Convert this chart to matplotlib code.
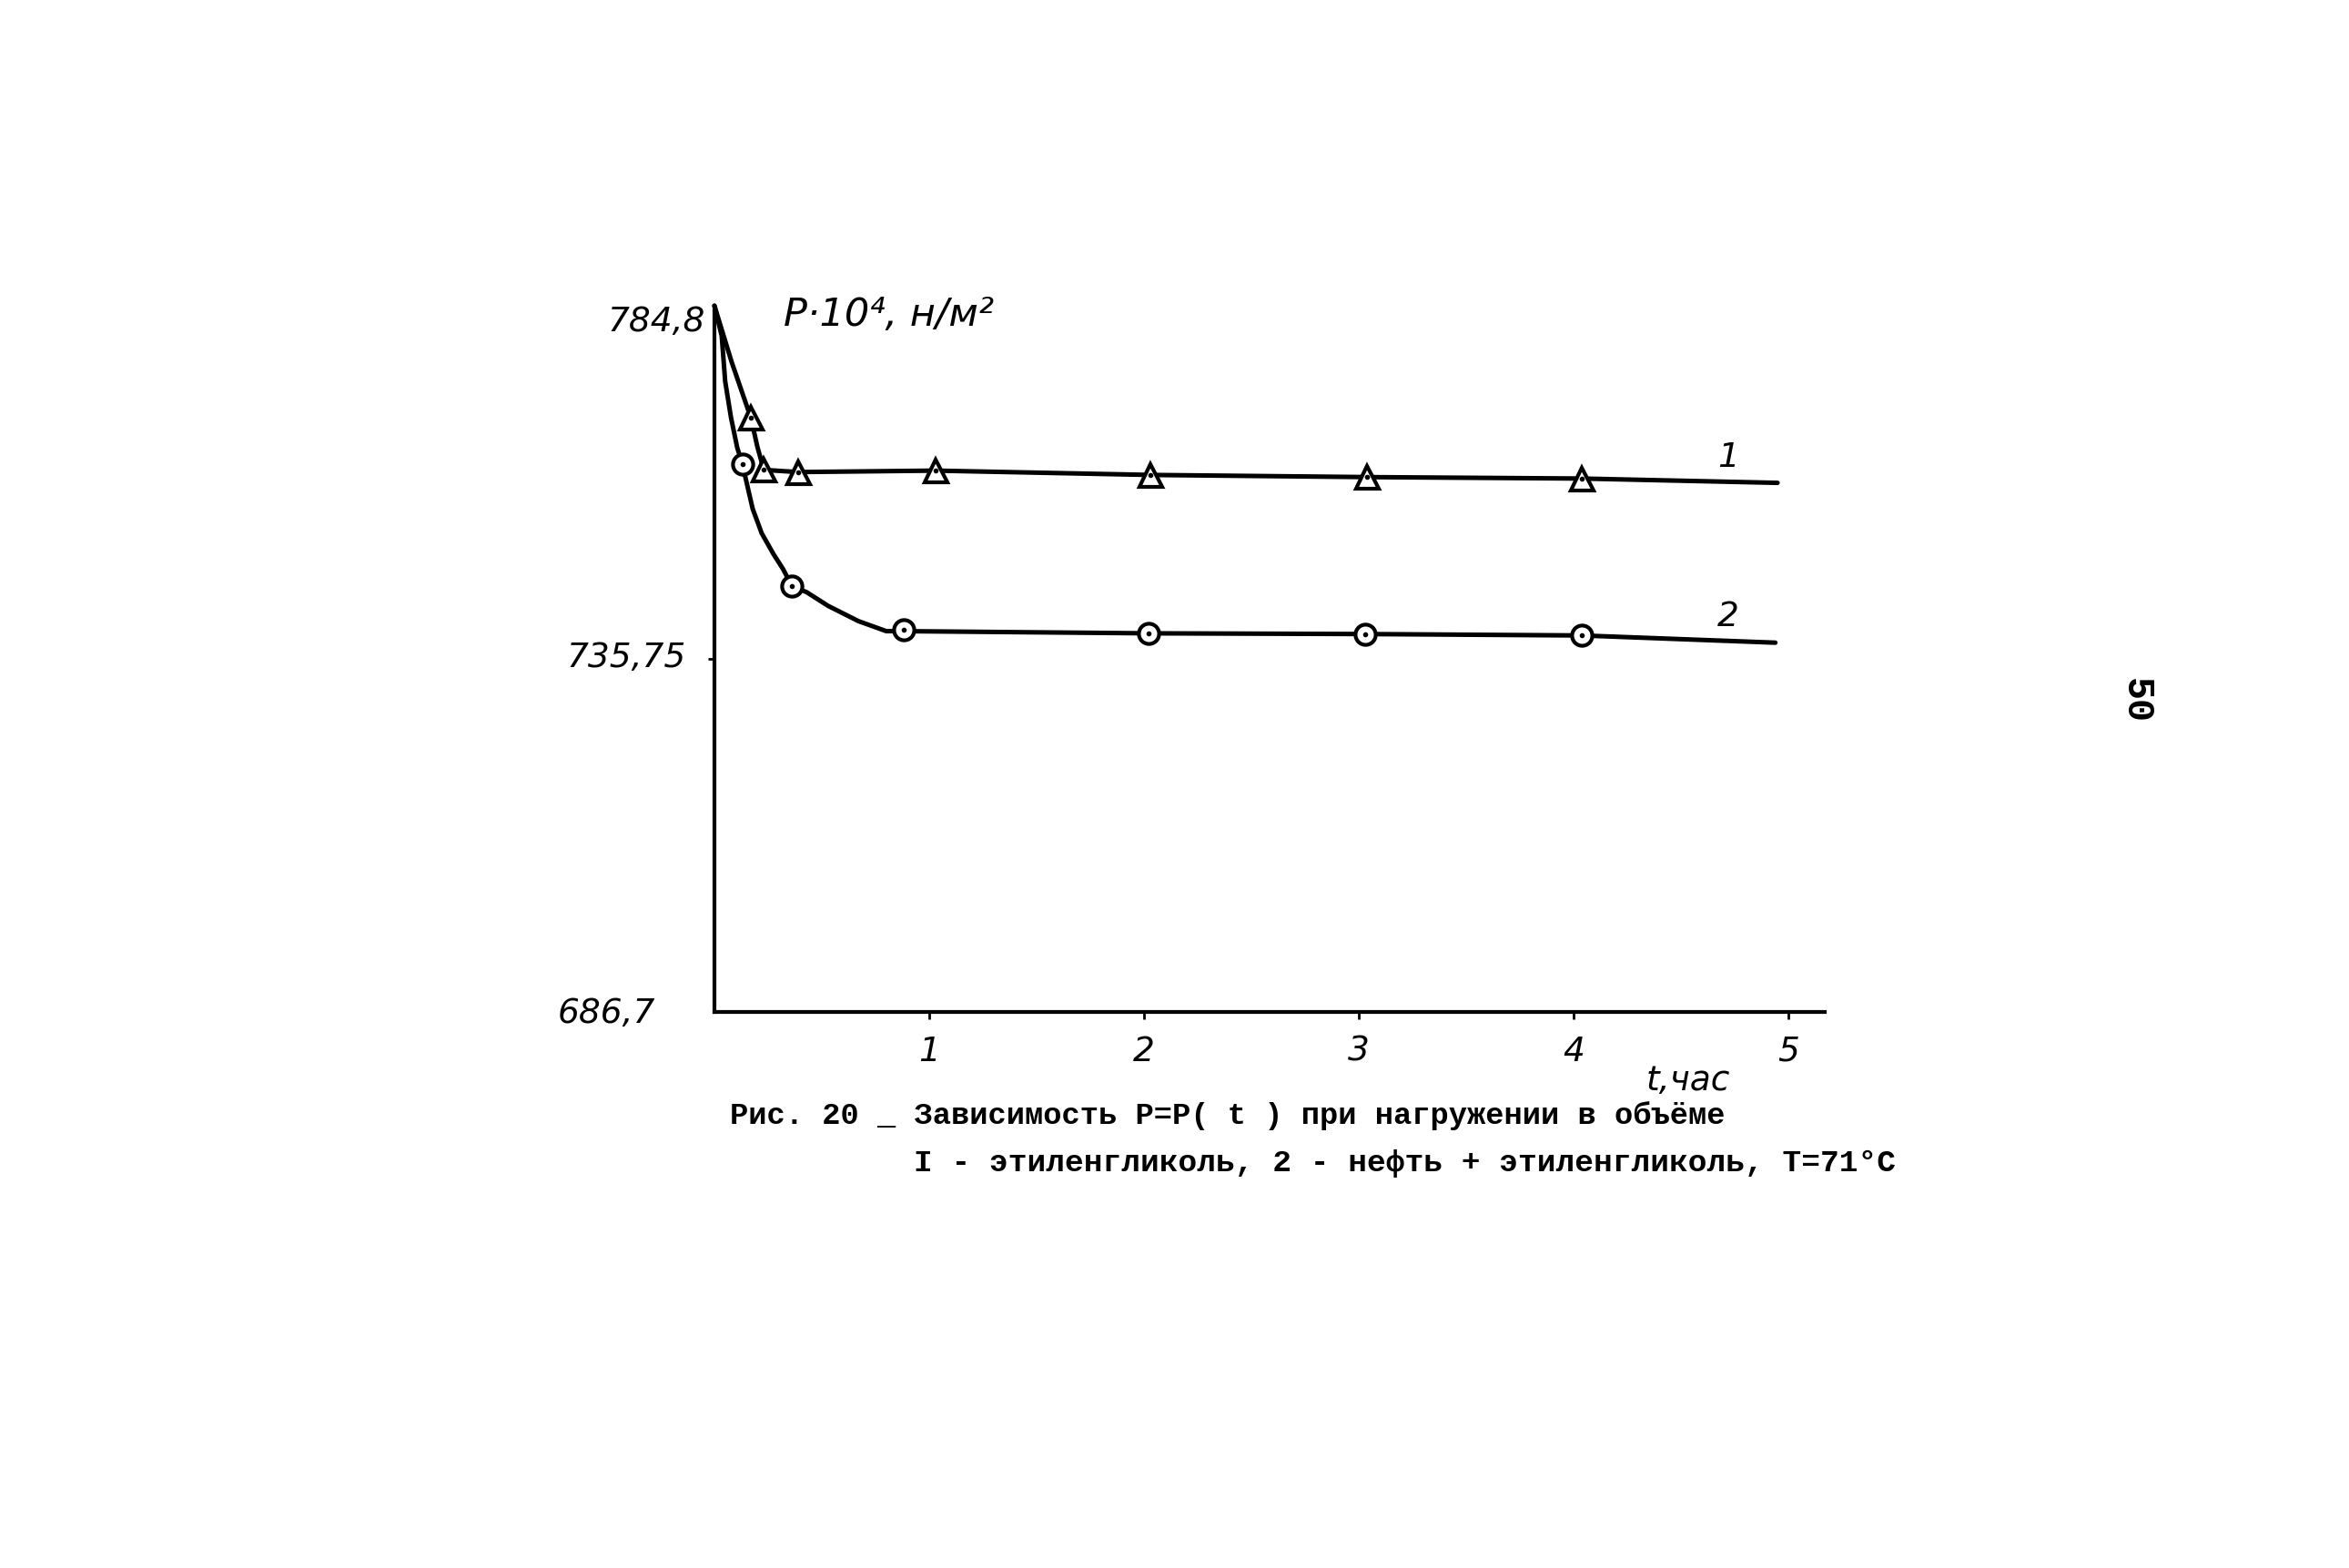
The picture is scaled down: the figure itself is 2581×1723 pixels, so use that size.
#!/usr/bin/env python3

import matplotlib
matplotlib.use('Agg')
from matplotlib import pyplot as plt
from matplotlib.transforms import ScaledTranslation

# Readings: t in hours, P in 10^4 N/m^2
# Curve 1 (triangles), ethylene glycol
T1_MARKS = [0.17, 0.23, 0.39, 1.03, 2.03, 3.04, 4.04]
P1_MARKS = [769.2, 762.0, 761.7, 761.9, 761.3, 761.0, 760.8]
T1_CURVE = [0.0, 0.08, 0.17, 0.20, 0.23, 0.39, 1.03, 2.03, 3.04, 4.04, 4.95]
P1_CURVE = [784.8, 777.0, 769.2, 765.2, 762.0, 761.7, 761.9, 761.3, 761.0, 760.8, 760.2]

# Curve 2 (circles), oil + ethylene glycol
T2_MARKS = [0.13, 0.36, 0.88, 2.02, 3.03, 4.04]
P2_MARKS = [762.8, 745.9, 739.8, 739.3, 739.2, 739.0]
T2_CURVE = [0.0, 0.034, 0.05, 0.077, 0.106, 0.13, 0.178, 0.22, 0.275, 0.32, 0.36,
            0.43, 0.53, 0.67, 0.80, 0.88, 2.02, 3.03, 4.04, 4.94]
P2_CURVE = [784.8, 780.6, 774.3, 769.3, 765.1, 762.8, 756.6, 753.2, 750.3, 748.2, 745.9,
            745.0, 743.1, 741.0, 739.6, 739.6, 739.3, 739.2, 739.0, 738.0]

CURVE_LABELS = ['1', '2']
CURVE_LABEL_T = [4.72, 4.72]
CURVE_LABEL_P = [763.8, 741.7]

X_TICKS = [1, 2, 3, 4, 5]
X_TICK_LABELS = ['1', '2', '3', '4', '5']
Y_TICKS = [686.7, 735.75, 784.8]
Y_TICK_LABELS = ['686,7', '735,75', '784,8']

CAPTION_1 = 'Рис. 20 _ Зависимость P=P( t ) при нагружении в объёме'
CAPTION_2 = 'I - этиленгликоль, 2 - нефть + этиленгликоль, T=71°C'

W, H, DPI = 2581, 1724, 100
HAND = dict(family='DejaVu Sans', style='italic', color='k')


def px_shift(fig, dx, dy):
    # pixel offsets (y up) as a transform
    return ScaledTranslation(dx / DPI, dy / DPI, fig.dpi_scale_trans)


def main():
    fig = plt.figure(figsize=(W / DPI, H / DPI), dpi=DPI, facecolor='white')
    ax = fig.add_axes([785 / W, 1 - 1113 / H, 1220 / W, 776 / H])

    lw = 3.6
    ax.plot(T1_CURVE, P1_CURVE, color='k', lw=lw, solid_capstyle='round',
            solid_joinstyle='round', clip_on=False, zorder=2)
    ax.plot(T2_CURVE, P2_CURVE, color='k', lw=lw, solid_capstyle='round',
            solid_joinstyle='round', clip_on=False, zorder=2)

    # open markers with a dot inside, white face breaks the line
    ax.plot(T1_MARKS, P1_MARKS, ls='none', marker='^', ms=18, mfc='white', mec='k', mew=3.0, zorder=3)
    ax.plot(T1_MARKS, P1_MARKS, ls='none', marker='.', ms=6, color='k', zorder=4)
    ax.plot(T2_MARKS, P2_MARKS, ls='none', marker='o', ms=16, mfc='white', mec='k', mew=3.0, zorder=3)
    ax.plot(T2_MARKS, P2_MARKS, ls='none', marker='.', ms=6, color='k', zorder=4)

    for lab, t, p in zip(CURVE_LABELS, CURVE_LABEL_T, CURVE_LABEL_P):
        ax.text(t, p, lab, fontsize=27, ha='center', va='center', **HAND)

    ax.set_xlim(0, 5.17)
    ax.set_ylim(686.7, 784.8)
    for side in ('top', 'right'):
        ax.spines[side].set_visible(False)
    for side in ('left', 'bottom'):
        ax.spines[side].set_linewidth(3.0)
        ax.spines[side].set_color('k')

    ax.set_xticks(X_TICKS)
    ax.set_xticklabels(X_TICK_LABELS, fontsize=27, **HAND)
    ax.set_yticks(Y_TICKS)
    ax.set_yticklabels(Y_TICK_LABELS, fontsize=27, **HAND)
    ax.tick_params(axis='x', direction='out', length=6, width=2, pad=12)
    ax.tick_params(axis='y', direction='out', length=5, width=2, pad=0)

    # only the middle y tick has a visible mark
    yt = ax.yaxis.get_major_ticks()
    yt[0].tick1line.set_visible(False)
    yt[2].tick1line.set_visible(False)

    # hand-placed y labels sit at different distances from the axis
    shifts = [(-58, 3), (-24, 6), (-3, -13)]
    for lab, (dx, dy) in zip(ax.get_yticklabels(), shifts):
        lab.set_transform(lab.get_transform() + px_shift(fig, dx, dy))

    fig.text(977 / W, 1 - 346 / H, 'P·10⁴, н/м²', fontsize=31, ha='center', va='center', **HAND)
    fig.text(1855 / W, 1 - 1188 / H, 't,час', fontsize=27, ha='center', va='center', **HAND)

    fig.text(802 / W, 1 - 1226 / H, CAPTION_1, fontsize=24.3, family='Liberation Mono',
             weight='bold', ha='left', va='center')
    fig.text(1004 / W, 1 - 1279 / H, CAPTION_2, fontsize=24.8, family='Liberation Mono',
             weight='bold', ha='left', va='center')

    fig.text(2347 / W, 1 - 770 / H, '50', fontsize=30, family='Liberation Mono',
             weight='bold', rotation=270, ha='center', va='center')

    fig.savefig('out.png', dpi=DPI, facecolor='white')


if __name__ == '__main__':
    main()
